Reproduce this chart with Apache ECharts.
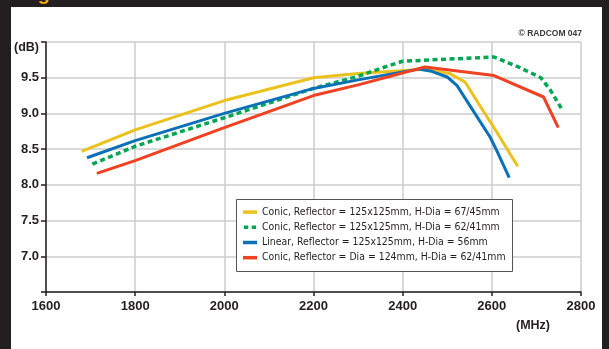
<!DOCTYPE html>
<html>
<head>
<meta charset="utf-8">
<script src="https://cdn.jsdelivr.net/npm/echarts@6/dist/echarts.min.js"></script>
<style>
html,body{margin:0;padding:0;background:#231f20;}
#wrap{position:relative;width:609px;height:349px;background:#231f20;overflow:hidden;}
#panel{position:absolute;left:11px;top:7px;width:591px;height:342px;background:#ffffff;}
#chart{position:absolute;left:0;top:0;width:609px;height:349px;}
</style>
</head>
<body>
<div id="wrap"><div id="panel"></div><div id="chart"></div></div>
<script>
// ---- data ----
const seriesNames = [
  'Conic, Reflector = 125x125mm, H-Dia = 67/45mm',
  'Conic, Reflector = 125x125mm, H-Dia = 62/41mm',
  'Linear, Reflector = 125x125mm, H-Dia = 56mm',
  'Conic, Reflector = Dia = 124mm, H-Dia = 62/41mm'
];
const conic67Freq = [1680, 1800, 2000, 2200, 2300, 2450, 2505, 2540, 2575, 2605, 2658];
const conic67Gain = [8.47, 8.77, 9.18, 9.50, 9.56, 9.62, 9.56, 9.44, 9.09, 8.80, 8.26];
const conic62Freq = [1704, 1800, 2000, 2200, 2300, 2360, 2400, 2500, 2605, 2660, 2710, 2732, 2757];
const conic62Gain = [8.29, 8.54, 8.94, 9.35, 9.52, 9.65, 9.73, 9.76, 9.79, 9.65, 9.50, 9.32, 9.06];
const linearFreq  = [1692, 1800, 2000, 2200, 2300, 2435, 2465, 2500, 2522, 2558, 2596, 2611, 2639];
const linearGain  = [8.38, 8.62, 9.00, 9.35, 9.47, 9.62, 9.59, 9.51, 9.39, 9.04, 8.67, 8.48, 8.10];
const dishFreq    = [1714, 1800, 2000, 2200, 2300, 2450, 2605, 2716, 2749];
const dishGain    = [8.16, 8.34, 8.80, 9.25, 9.40, 9.65, 9.53, 9.23, 8.80];
const xTicks = [1600, 1800, 2000, 2200, 2400, 2600, 2800];
const yUnit = '(dB)';
const xUnit = '(MHz)';
const credit = '\u00A9 RADCOM 047';

const zip = (xs, ys) => xs.map((x, i) => [x, ys[i]]);
const colors = ['#ebc11b', '#00a651', '#0a71b9', '#ef4223'];
const CFONT = '"DejaVu Sans", sans-serif';
const AFONT = '"Liberation Sans", Arial, sans-serif';
const DARK = '#231f20';

const chart = echarts.init(document.getElementById('chart'), null, {renderer: 'canvas'});
const mk = (i, data, dashed) => ({
  name: seriesNames[i],
  type: 'line',
  data: data,
  showSymbol: false,
  symbol: 'none',
  z: 3 + i,
  itemStyle: {color: colors[i]},
  lineStyle: dashed
    ? {color: colors[i], width: 3.5, type: [5, 3.5], cap: 'butt'}
    : {color: colors[i], width: 3, cap: 'butt', join: 'round'},
  emphasis: {disabled: true},
  animation: false
});

chart.setOption({
  backgroundColor: 'transparent',
  animation: false,
  grid: {left: 46, right: 28, top: 42, bottom: 57},
  xAxis: {
    type: 'value', min: xTicks[0], max: xTicks[xTicks.length - 1], interval: 200,
    axisLine: {show: true, lineStyle: {color: DARK, width: 1.5}},
    axisTick: {show: true, length: 4, lineStyle: {color: DARK, width: 1.5}},
    splitLine: {show: true, lineStyle: {color: '#cccccc', width: 1.5}},
    axisLabel: {color: DARK, fontFamily: AFONT, fontWeight: 'bold', fontSize: 13, margin: 8,
      formatter: v => String(v)}
  },
  yAxis: {
    type: 'value', min: 6.5, max: 10, interval: 0.5,
    axisLine: {show: true, lineStyle: {color: DARK, width: 1.5}},
    axisTick: {show: true, length: 5, lineStyle: {color: DARK, width: 1.5}},
    splitLine: {show: true, lineStyle: {color: '#cccccc', width: 1.5}},
    axisLabel: {
      color: DARK, fontFamily: AFONT, fontWeight: 'bold', fontSize: 13, margin: 7,
      formatter: v => (Math.abs(v - 10) < 1e-6 ? '{u|' + yUnit + '}' : (Math.abs(v - 6.5) < 1e-6 ? '' : v.toFixed(1))),
      rich: {u: {color: DARK, fontFamily: AFONT, fontWeight: 'bold', fontSize: 12.5, padding: [11, 0, 0, 0]}}
    }
  },
  legend: {
    orient: 'vertical',
    left: 237, top: 200,
    padding: [6, 6, 6, 6],
    itemWidth: 14, itemHeight: 3.5, itemGap: 3,
    selectedMode: false,
    z: 20,
    textStyle: {color: DARK, fontFamily: CFONT, fontWeight: 'condensed', fontSize: 10.4, lineHeight: 12.2},
    data: [
      {name: seriesNames[0], icon: 'rect'},
      {name: seriesNames[1], icon: 'path://M0,0H5V4H0Z M9,0H14V4H9Z'},
      {name: seriesNames[2], icon: 'rect'},
      {name: seriesNames[3], icon: 'rect'}
    ]
  },
  graphic: [
    {type: 'rect', z: 15, shape: {x: 236.5, y: 199.5, width: 276, height: 72},
     style: {fill: '#ffffff', stroke: '#555555', lineWidth: 1}},
    {type: 'text', z: 15, left: 516, top: 319,
     style: {text: xUnit, fill: DARK, font: 'bold 12.5px ' + AFONT}},
    {type: 'text', z: 15, right: 27, top: 29,
     style: {text: credit, fill: '#3a3a3a', font: 'bold 8.5px ' + AFONT}},
    {type: 'text', z: 15, left: 20, top: -16,
     style: {text: 'Fig', fill: '#f2a900', font: 'bold 20px ' + AFONT}}
  ],
  series: [
    mk(0, zip(conic67Freq, conic67Gain), false),
    mk(1, zip(conic62Freq, conic62Gain), true),
    mk(2, zip(linearFreq, linearGain), false),
    mk(3, zip(dishFreq, dishGain), false)
  ]
});
</script>
</body>
</html>
